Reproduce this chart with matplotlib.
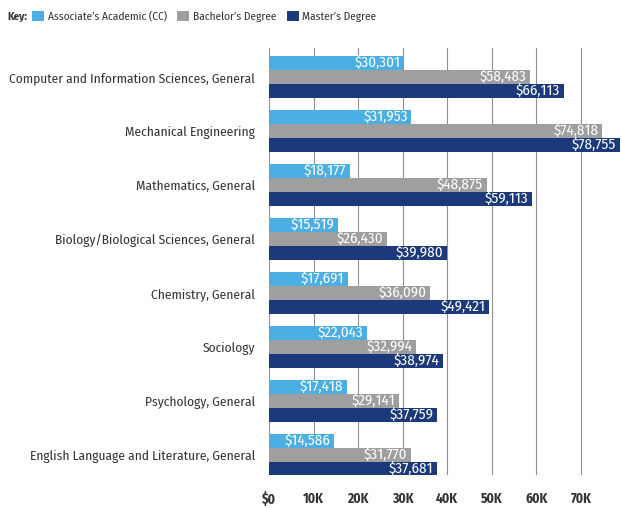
import matplotlib
matplotlib.use("Agg")
import matplotlib.pyplot as plt
from matplotlib import font_manager as fm
import numpy as np

categories = [
    "Computer and Information Sciences, General",
    "Mechanical Engineering",
    "Mathematics, General",
    "Biology/Biological Sciences, General",
    "Chemistry, General",
    "Sociology",
    "Psychology, General",
    "English Language and Literature, General",
]
series_names = ["Associate\u2019s Academic (CC)", "Bachelor\u2019s Degree", "Master\u2019s Degree"]
associate = [30301, 31953, 18177, 15519, 17691, 22043, 17418, 14586]
bachelor = [58483, 74818, 48875, 26430, 36090, 32994, 29141, 31770]
master = [66113, 78755, 59113, 39980, 49421, 38974, 37759, 37681]
tick_values = [0, 10000, 20000, 30000, 40000, 50000, 60000, 70000]
tick_labels = ["$0", "10K", "20K", "30K", "40K", "50K", "60K", "70K"]

colors = ["#4BAFE3", "#9F9F9F", "#1C3A7B"]
text_color = "#333333"

available = {f.name for f in fm.fontManager.ttflist}
candidates = ["Fira Sans Condensed", "Encode Sans Condensed", "Asap Condensed",
              "Roboto Condensed", "PT Sans Narrow", "Archivo Narrow",
              "Open Sans Condensed", "Liberation Sans Narrow", "Ubuntu Condensed",
              "Barlow Semi Condensed", "DejaVu Sans Condensed"]
main_font = next((c for c in candidates if c in available), "DejaVu Sans")
plt.rcParams["font.family"] = [main_font, "DejaVu Sans"]

W, H = 622, 508
fig = plt.figure(figsize=(W / 100, H / 100), dpi=100)
renderer = fig.canvas.get_renderer()


def fit_size(text, target_px, weight="normal", base=10.0):
    t = fig.text(0, 0, text, fontsize=base, fontweight=weight)
    w = t.get_window_extent(renderer).width
    t.remove()
    return base * target_px / w


cat_fs = min(fit_size(categories[0], 245), 13)
val_fs = min(fit_size("$66,113", 44), 11)
tick_fs = min(fit_size("70K", 21, "bold"), 11.5)
leg_fs = min(fit_size(series_names[0], 119), 12)
key_fs = min(fit_size("Key:", 20, "bold"), 12.5)

ax = fig.add_axes([269 / W, 1 - 475 / H, 352 / W, 427 / H])

y = np.arange(len(categories))
bh = 0.256
offsets = [-bh, 0, bh]
all_series = [associate, bachelor, master]
for s, vals, off, c in zip(series_names, all_series, offsets, colors):
    bars = ax.barh(y + off, vals, height=bh, color=c, label=s, zorder=2)
    for b, v in zip(bars, vals):
        ax.text(v - 800, b.get_y() + b.get_height() / 2, f"${v:,}",
                ha="right", va="center", color="white", fontsize=val_fs, zorder=3)

ax.set_xlim(0, 79000)
ax.set_ylim(7 + 20 / 54, -29 / 54)
ax.set_xticks(tick_values)
ax.set_xticklabels(tick_labels, fontsize=tick_fs, color=text_color, fontweight="bold")
ax.set_yticks(y)
ax.set_yticklabels(categories, fontsize=cat_fs, color=text_color)
ax.tick_params(axis="both", length=0)
ax.tick_params(axis="y", pad=10)
ax.tick_params(axis="x", pad=12)
ax.grid(axis="x", color="#909090", linewidth=0.8, zorder=0)
ax.set_axisbelow(True)
for sp in ax.spines.values():
    sp.set_visible(False)

fig.text(7 / W, 1 - 17 / H, "Key:", fontsize=key_fs, fontweight="bold",
         color=text_color, va="center", ha="left")
leg_px = leg_fs * 100 / 72
handles, labels = ax.get_legend_handles_labels()
fig.legend(handles, labels, loc="center left", bbox_to_anchor=(32 / W, 1 - 17 / H),
           ncol=3, frameon=False, fontsize=leg_fs, handlelength=12 / leg_px,
           handleheight=11 / leg_px,
           handletextpad=4 / leg_px, columnspacing=10 / leg_px, borderpad=0,
           borderaxespad=0, labelcolor=text_color)

fig.savefig("out.png", dpi=100)
